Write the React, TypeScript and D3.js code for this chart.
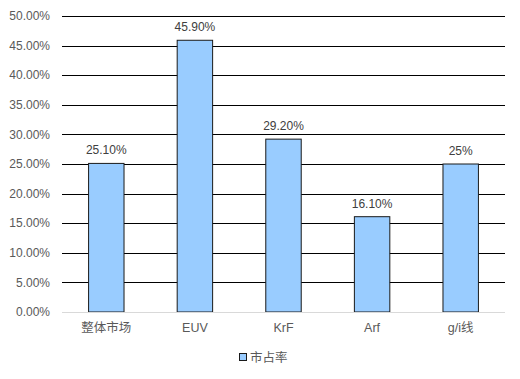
import React from "react";
import * as d3 from "d3";

const categories = ["整体市场", "EUV", "KrF", "Arf", "g/i线"];
const values = [25.1, 45.9, 29.2, 16.1, 25];
const valueLabels = ["25.10%", "45.90%", "29.20%", "16.10%", "25%"];
const yTicks = [0, 5, 10, 15, 20, 25, 30, 35, 40, 45, 50];
const seriesName = "市占率";

const W = 520;
const H = 379;
const margin = { left: 62, right: 15, top: 16, bottom: 67 };
const font = "'Liberation Sans', 'Noto Sans CJK SC', sans-serif";

export default function App() {
  const x = d3
    .scaleBand<string>()
    .domain(categories)
    .range([margin.left, W - margin.right])
    .paddingInner(0.6)
    .paddingOuter(0.3);
  const y = d3.scaleLinear().domain([0, 50]).range([H - margin.bottom, margin.top]);

  return (
    <svg
      width={W}
      height={H}
      style={{ position: "absolute", left: 0, top: 0, background: "#fff" }}
      fontFamily={font}
    >
      {yTicks.map((t) => (
        <g key={t}>
          {t > 0 && (
            <line
              x1={margin.left}
              x2={W - margin.right}
              y1={Math.round(y(t)) + 0.5}
              y2={Math.round(y(t)) + 0.5}
              stroke="#000"
              strokeWidth={1}
            />
          )}
          <text
            x={50}
            y={y(t)}
            dy="0.35em"
            textAnchor="end"
            fontSize={12}
            fill="#595959"
          >
            {t.toFixed(2)}%
          </text>
        </g>
      ))}
      {categories.map((c, i) => (
        <g key={c}>
          <rect
            x={x(c)!}
            y={y(values[i])}
            width={x.bandwidth()}
            height={y(0) - y(values[i])}
            fill="#99CCFF"
            stroke="#1a1a1a"
            strokeWidth={1}
          />
          <text
            x={x(c)! + x.bandwidth() / 2}
            y={y(values[i]) - 9}
            textAnchor="middle"
            fontSize={12}
            fill="#404040"
          >
            {valueLabels[i]}
          </text>
          <text
            x={x(c)! + x.bandwidth() / 2}
            y={332}
            textAnchor="middle"
            fontSize={12.5}
            fill="#595959"
          >
            {c}
          </text>
        </g>
      ))}
      <line
        x1={margin.left}
        x2={W - margin.right}
        y1={Math.round(y(0)) + 0.5}
        y2={Math.round(y(0)) + 0.5}
        stroke="#d9d9d9"
        strokeWidth={1}
      />
      <rect x={239.5} y={353.5} width={7} height={7} fill="#99CCFF" stroke="#1a1a1a" strokeWidth={1} />
      <text x={250} y={361.5} fontSize={12.5} fill="#595959">
        {seriesName}
      </text>
    </svg>
  );
}
